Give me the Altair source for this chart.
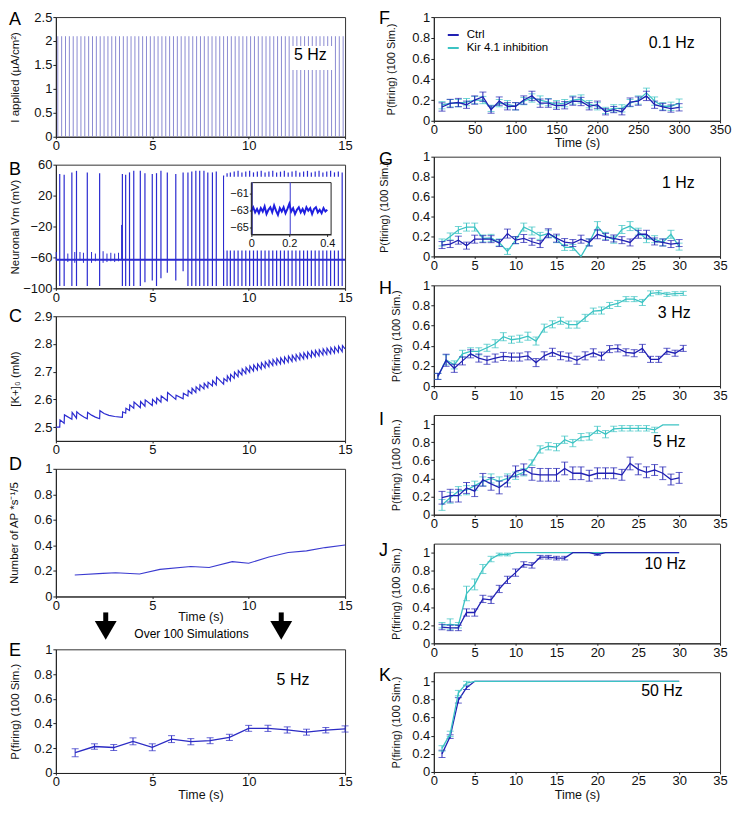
import altair as alt
import pandas as pd

FONT = "Liberation Sans"
BLUE = "#2b2bd0"
CTRL_C = "#2121b3"
KIR_C = "#3cc3c3"
PULSE_C = "#8b8bd2"

LW, RW = 290, 287
HA, HB, HC, HD, HE = 120, 124, 125, 128, 124
HF, HG, HH, HI, HJ, HK = 104, 100, 101, 100, 100, 100

# ---------------- A: applied current pulses (5 Hz) ----------------
pulse_t = [0.1, 0.3, 0.5, 0.7, 0.9, 1.1, 1.3, 1.5, 1.7, 1.9,
           2.1, 2.3, 2.5, 2.7, 2.9, 3.1, 3.3, 3.5, 3.7, 3.9,
           4.1, 4.3, 4.5, 4.7, 4.9, 5.1, 5.3, 5.5, 5.7, 5.9,
           6.1, 6.3, 6.5, 6.7, 6.9, 7.1, 7.3, 7.5, 7.7, 7.9,
           8.1, 8.3, 8.5, 8.7, 8.9, 9.1, 9.3, 9.5, 9.7, 9.9,
           10.1, 10.3, 10.5, 10.7, 10.9, 11.1, 11.3, 11.5, 11.7, 11.9,
           12.1, 12.3, 12.5, 12.7, 12.9, 13.1, 13.3, 13.5, 13.7, 13.9,
           14.1, 14.3, 14.5, 14.7, 14.9]
pulse_amp = 2.1

# ---------------- B: membrane potential ----------------
spike_t = [0.2, 0.43, 0.83, 1.07, 1.63, 2.27,
           3.45, 3.62, 3.82, 4.04, 4.38, 4.62, 5.0, 5.22, 5.45, 5.78, 6.22,
           6.6, 6.85, 7.05, 7.26, 7.46, 7.68, 7.88, 8.12, 8.32, 8.7, 8.88,
           9.05, 9.25, 9.45, 9.65, 9.85, 10.05, 10.25, 10.45, 10.65, 10.85,
           11.05, 11.25, 11.45, 11.65, 11.85, 12.05, 12.25, 12.45, 12.65, 12.85,
           13.05, 13.25, 13.45, 13.65, 13.85, 14.05, 14.25, 14.45, 14.65, 14.85]
spike_hi = [48, 47, 50, 52, 50, 49,
            48, 47, 50, 52, 52, 49, 48, 49, 52, 50, 48,
            50, 50, 51, 52, 52, 52, 50, 50, 51, 46, 49,
            50, 51, 52, 50, 51, 52, 50, 51, 52, 50,
            51, 52, 50, 51, 52, 50, 51, 52, 50, 51,
            52, 50, 51, 52, 50, 51, 52, 50, 51, 50]
spike_lo = [-97, -97, -97, -97, -97, -97,
            -97, -97, -97, -97, -97, -92, -90, -97, -87, -80, -90,
            -78, -97, -97, -97, -97, -97, -97, -97, -97, -97, -97,
            -97, -97, -97, -97, -97, -97, -97, -97, -97, -97,
            -97, -97, -97, -97, -97, -97, -97, -97, -97, -97,
            -97, -97, -97, -97, -97, -97, -97, -97, -97, -97]
blip_t = [0.02, 0.62, 0.98, 1.25, 1.43, 1.85, 2.05, 2.45, 2.65, 2.85, 3.05, 3.25, 3.41]
blip_hi = [-53, -55, -53, -53, -54, -53, -55, -52, -55, -54, -55, -54, -18]
blip_lo = [-63, -66, -67, -64, -67, -67, -65, -67, -66, -65, -66, -65, -63]
rest_vm = -63
trace_span = [0.0, 15.0]

inset_t = [0.0, 0.01, 0.02, 0.03, 0.04, 0.05, 0.06, 0.07, 0.08, 0.09,
           0.1, 0.11, 0.12, 0.13, 0.14, 0.15, 0.16, 0.17, 0.18, 0.19,
           0.2, 0.21, 0.22, 0.23, 0.24, 0.25, 0.26, 0.27, 0.28, 0.29,
           0.3, 0.31, 0.32, 0.33, 0.34, 0.35, 0.36, 0.37, 0.38, 0.39, 0.4]
inset_vm = [-63.0, -62.6, -63.2, -62.8, -63.3, -62.7, -63.1, -62.5, -63.4, -62.9,
            -62.6, -63.2, -62.4, -63.0, -63.5, -62.7, -63.1, -62.6, -63.3, -62.8,
            -62.2, -63.1, -62.7, -63.4, -62.9, -62.6, -63.2, -62.8, -63.3, -62.6,
            -63.0, -62.7, -63.4, -62.8, -62.6, -63.2, -62.9, -63.3, -62.7, -63.1, -62.9]
inset_spike_t = [0.005, 0.205]
inset_ydom = [-65.8, -59.7]

# ---------------- C: extracellular K+ ----------------
c_lo = [2.500, 2.514, 2.528, 2.532, 2.530, 2.530,
        2.535, 2.550, 2.560, 2.568, 2.570, 2.575, 2.578, 2.585, 2.590, 2.595, 2.600,
        2.602, 2.612, 2.620, 2.625, 2.632, 2.638, 2.642, 2.648, 2.652, 2.655, 2.665,
        2.668, 2.676, 2.682, 2.688, 2.693, 2.698, 2.702, 2.706, 2.710, 2.714,
        2.718, 2.722, 2.725, 2.728, 2.731, 2.734, 2.737, 2.740, 2.743, 2.746,
        2.749, 2.752, 2.755, 2.757, 2.760, 2.762, 2.765, 2.767, 2.770, 2.772]
c_hi = [2.526, 2.544, 2.553, 2.555, 2.553, 2.559,
        2.555, 2.568, 2.580, 2.590, 2.592, 2.598, 2.600, 2.605, 2.612, 2.625, 2.615,
        2.622, 2.632, 2.640, 2.645, 2.652, 2.658, 2.662, 2.668, 2.680, 2.675, 2.685,
        2.690, 2.698, 2.704, 2.710, 2.715, 2.720, 2.724, 2.728, 2.732, 2.736,
        2.740, 2.744, 2.747, 2.750, 2.753, 2.756, 2.759, 2.762, 2.765, 2.768,
        2.771, 2.774, 2.777, 2.779, 2.782, 2.784, 2.787, 2.789, 2.792, 2.794]
c_extra_t = [0.0, 1.25, 1.45, 1.85, 2.05, 2.5, 2.75, 3.05, 15.0]
c_extra_v = [2.500, 2.545, 2.536, 2.543, 2.536, 2.549, 2.542, 2.538, 2.782]

# ---------------- D: AP count ----------------
d_t = [0.98, 2.44, 3.1, 4.34, 5.4, 7.0, 7.95, 9.15, 10.0, 11.05, 12.05, 13.0, 13.97, 15.0]
d_v = [0.168, 0.181, 0.186, 0.176, 0.212, 0.235, 0.227, 0.273, 0.26, 0.309, 0.344, 0.357, 0.383, 0.403]

# ---------------- E: firing probability, 100 simulations ----------------
e_t = [1, 2, 3, 4, 5, 6, 7, 8, 9, 10, 11, 12, 13, 14, 15]
e_p = [0.164, 0.214, 0.206, 0.256, 0.208, 0.274, 0.253, 0.261, 0.288, 0.361, 0.361, 0.348, 0.33, 0.346, 0.356]
e_err = [0.032, 0.022, 0.024, 0.028, 0.028, 0.028, 0.025, 0.024, 0.025, 0.024, 0.025, 0.025, 0.024, 0.022, 0.025]

# ---------------- F-K: Ctrl vs Kir 4.1 inhibition ----------------
f_t = [10, 20, 30, 40, 50, 60, 70, 80, 90, 100, 110, 120, 130, 140, 150,
       160, 170, 180, 190, 200, 210, 220, 230, 240, 250, 260, 270, 280, 290, 300]
f_ctrl = [0.133, 0.167, 0.176, 0.155, 0.20, 0.232, 0.108, 0.19, 0.14, 0.14, 0.20, 0.24, 0.17, 0.17, 0.145,
          0.15, 0.19, 0.186, 0.14, 0.155, 0.087, 0.108, 0.087, 0.18, 0.19, 0.24, 0.155, 0.133, 0.118, 0.13]
f_ctrl_e = [0.04, 0.04, 0.04, 0.035, 0.04, 0.045, 0.035, 0.04, 0.035, 0.035, 0.04, 0.045, 0.04, 0.04, 0.035,
            0.035, 0.04, 0.04, 0.035, 0.035, 0.03, 0.03, 0.03, 0.04, 0.04, 0.045, 0.035, 0.035, 0.035, 0.035]
f_kir = [0.15, 0.17, 0.17, 0.18, 0.20, 0.20, 0.12, 0.17, 0.16, 0.14, 0.19, 0.22, 0.20, 0.18, 0.16,
         0.17, 0.20, 0.21, 0.16, 0.14, 0.10, 0.12, 0.12, 0.17, 0.20, 0.27, 0.19, 0.14, 0.14, 0.17]
f_kir_e = [0.035, 0.035, 0.035, 0.035, 0.035, 0.035, 0.03, 0.035, 0.035, 0.035, 0.035, 0.04, 0.04, 0.035, 0.035,
           0.035, 0.04, 0.04, 0.035, 0.035, 0.03, 0.035, 0.035, 0.035, 0.04, 0.045, 0.04, 0.035, 0.04, 0.04]

t30 = [1, 2, 3, 4, 5, 6, 7, 8, 9, 10, 11, 12, 13, 14, 15,
       16, 17, 18, 19, 20, 21, 22, 23, 24, 25, 26, 27, 28, 29, 30]

g_ctrl = [0.114, 0.124, 0.163, 0.108, 0.173, 0.173, 0.173, 0.134, 0.229, 0.163, 0.18, 0.147, 0.124, 0.232, 0.183,
          0.144, 0.134, 0.173, 0.14, 0.222, 0.196, 0.18, 0.163, 0.14, 0.222, 0.222, 0.15, 0.14, 0.124, 0.134]
g_ctrl_e = [0.035, 0.035, 0.04, 0.035, 0.04, 0.035, 0.035, 0.035, 0.045, 0.035, 0.04, 0.035, 0.035, 0.045, 0.04,
            0.035, 0.035, 0.04, 0.035, 0.045, 0.035, 0.035, 0.035, 0.035, 0.04, 0.04, 0.035, 0.035, 0.035, 0.035]
g_kir = [0.14, 0.2, 0.265, 0.294, 0.294, 0.18, 0.186, 0.14, 0.05, 0.163, 0.294, 0.255, 0.206, 0.229, 0.173,
         0.09, 0.09, 0.0, 0.14, 0.304, 0.206, 0.167, 0.27, 0.304, 0.248, 0.173, 0.173, 0.14, 0.222, 0.098]
g_kir_e = [0.035, 0.035, 0.035, 0.04, 0.04, 0.035, 0.035, 0.035, 0.03, 0.035, 0.04, 0.04, 0.035, 0.035, 0.035,
           0.03, 0.03, 0.0, 0.035, 0.045, 0.035, 0.035, 0.04, 0.045, 0.035, 0.035, 0.035, 0.035, 0.04, 0.035]

h_t = [0.5, 1.5, 2.5, 3.5, 4.5, 5.5, 6.5, 7.5, 8.5, 9.5, 10.5, 11.5, 12.5, 13.5, 14.5, 15.5,
       16.5, 17.5, 18.5, 19.5, 20.5, 21.5, 22.5, 23.5, 24.5, 25.5, 26.5, 27.5, 28.5, 29.5, 30.5]
h_ctrl = [0.096, 0.256, 0.176, 0.25, 0.32, 0.278, 0.256, 0.278, 0.294, 0.288, 0.288, 0.30, 0.233, 0.30, 0.335, 0.30,
          0.288, 0.256, 0.30, 0.33, 0.297, 0.367, 0.374, 0.335, 0.326, 0.374, 0.265, 0.265, 0.345, 0.326, 0.374]
h_ctrl_e = [0.03, 0.06, 0.04, 0.04, 0.04, 0.04, 0.04, 0.04, 0.04, 0.04, 0.04, 0.04, 0.04, 0.04, 0.04, 0.04,
            0.04, 0.04, 0.04, 0.04, 0.04, 0.035, 0.035, 0.035, 0.035, 0.04, 0.03, 0.03, 0.03, 0.03, 0.03]
h_kir = [0.096, 0.26, 0.21, 0.32, 0.345, 0.345, 0.38, 0.42, 0.49, 0.46, 0.47, 0.495, 0.447, 0.575, 0.613, 0.649,
         0.61, 0.61, 0.677, 0.744, 0.75, 0.80, 0.82, 0.863, 0.863, 0.83, 0.92, 0.927, 0.91, 0.917, 0.92]
h_kir_e = [0.03, 0.05, 0.04, 0.035, 0.035, 0.035, 0.035, 0.04, 0.04, 0.035, 0.035, 0.04, 0.04, 0.04, 0.035, 0.035,
           0.035, 0.035, 0.035, 0.03, 0.035, 0.03, 0.03, 0.025, 0.025, 0.03, 0.025, 0.02, 0.02, 0.02, 0.02]

i_ctrl = [0.187, 0.21, 0.21, 0.295, 0.26, 0.385, 0.34, 0.30, 0.367, 0.478, 0.50, 0.45, 0.44, 0.44, 0.44,
          0.51, 0.457, 0.457, 0.43, 0.457, 0.457, 0.457, 0.44, 0.565, 0.50, 0.468, 0.493, 0.457, 0.388, 0.406]
i_ctrl_e = [0.07, 0.07, 0.07, 0.06, 0.06, 0.07, 0.07, 0.07, 0.06, 0.06, 0.06, 0.07, 0.07, 0.07, 0.07,
            0.07, 0.07, 0.07, 0.06, 0.06, 0.06, 0.06, 0.06, 0.07, 0.06, 0.06, 0.06, 0.07, 0.06, 0.06]
i_kir = [0.108, 0.187, 0.26, 0.27, 0.32, 0.367, 0.40, 0.367, 0.40, 0.43, 0.468, 0.575, 0.72, 0.755, 0.745,
         0.827, 0.79, 0.856, 0.863, 0.935, 0.888, 0.946, 0.953, 0.953, 0.953, 0.953, 0.935, 0.99, 0.99, 0.99]
i_kir_e = [0.06, 0.06, 0.05, 0.05, 0.05, 0.05, 0.05, 0.05, 0.05, 0.04, 0.04, 0.03, 0.04, 0.04, 0.04,
           0.04, 0.04, 0.04, 0.04, 0.04, 0.04, 0.03, 0.03, 0.03, 0.03, 0.03, 0.03, 0.0, 0.0, 0.0]

j_ctrl = [0.18, 0.17, 0.17, 0.34, 0.34, 0.49, 0.48, 0.60, 0.70, 0.78, 0.87, 0.86, 0.95, 0.95, 0.94,
          0.94, 1.0, 1.0, 1.0, 0.98, 1.0, 1.0, 1.0, 1.0, 1.0, 1.0, 1.0, 1.0, 1.0, 1.0]
j_ctrl_e = [0.03, 0.03, 0.03, 0.04, 0.04, 0.04, 0.04, 0.04, 0.04, 0.04, 0.03, 0.03, 0.02, 0.02, 0.02,
            0.02, 0.0, 0.0, 0.0, 0.01, 0.0, 0.0, 0.0, 0.0, 0.0, 0.0, 0.0, 0.0, 0.0, 0.0]
j_kir = [0.2, 0.21, 0.2, 0.55, 0.65, 0.82, 0.93, 0.98, 0.98, 1.0, 1.0, 1.0, 1.0, 1.0, 1.0,
         1.0, 1.0, 1.0, 1.0, 1.0, 1.0, 1.0, 1.0, 1.0, 1.0, 1.0, 1.0, 1.0, 1.0, 1.0]
j_kir_e = [0.03, 0.06, 0.03, 0.08, 0.06, 0.05, 0.03, 0.015, 0.015, 0.0, 0.0, 0.0, 0.0, 0.0, 0.0,
           0.0, 0.0, 0.0, 0.0, 0.0, 0.0, 0.0, 0.0, 0.0, 0.0, 0.0, 0.0, 0.0, 0.0, 0.0]

k_ctrl = [0.2, 0.39, 0.79, 0.93, 1.0, 1.0, 1.0, 1.0, 1.0, 1.0, 1.0, 1.0, 1.0, 1.0, 1.0,
          1.0, 1.0, 1.0, 1.0, 1.0, 1.0, 1.0, 1.0, 1.0, 1.0, 1.0, 1.0, 1.0, 1.0, 1.0]
k_ctrl_e = [0.04, 0.02, 0.03, 0.02, 0.0, 0.0, 0.0, 0.0, 0.0, 0.0, 0.0, 0.0, 0.0, 0.0, 0.0,
            0.0, 0.0, 0.0, 0.0, 0.0, 0.0, 0.0, 0.0, 0.0, 0.0, 0.0, 0.0, 0.0, 0.0, 0.0]
k_kir = [0.26, 0.42, 0.87, 0.98, 1.0, 1.0, 1.0, 1.0, 1.0, 1.0, 1.0, 1.0, 1.0, 1.0, 1.0,
         1.0, 1.0, 1.0, 1.0, 1.0, 1.0, 1.0, 1.0, 1.0, 1.0, 1.0, 1.0, 1.0, 1.0, 1.0]
k_kir_e = [0.03, 0.03, 0.03, 0.02, 0.0, 0.0, 0.0, 0.0, 0.0, 0.0, 0.0, 0.0, 0.0, 0.0, 0.0,
           0.0, 0.0, 0.0, 0.0, 0.0, 0.0, 0.0, 0.0, 0.0, 0.0, 0.0, 0.0, 0.0, 0.0, 0.0]

series_names = ["Ctrl", "Kir 4.1 inhibition"]
series_colors = [CTRL_C, KIR_C]
prob_ticks = [0, 0.2, 0.4, 0.6, 0.8, 1]
left_xticks = [0, 5, 10, 15]
right_xticks = [0, 5, 10, 15, 20, 25, 30, 35]
f_xticks = [0, 50, 100, 150, 200, 250, 300, 350]

one = pd.DataFrame({"a": [0]})


# ---------------- helpers ----------------
def xaxis(ticks, title=None, title_y=14):
    kw = dict(values=ticks, labelFlush=False, labelOverlap=False, tickSize=2, labelPadding=1)
    if title:
        kw.update(title=title, titleY=title_y, titleFontSize=12.5)
    else:
        kw.update(title=None)
    return alt.Axis(**kw)


def yaxis(ticks, title, title_x, fmt="~g", title_size=11.5):
    return alt.Axis(values=ticks, format=fmt, title=title, titleX=title_x, titleFontSize=title_size,
                    titleBaseline="middle", tickSize=3, labelPadding=1)


def letter_layer(letter, dx, dy):
    return alt.Chart(pd.DataFrame({"l": [letter]})).mark_text(
        font=FONT, fontSize=18, align="left", baseline="middle", color="black"
    ).encode(x=alt.value(dx), y=alt.value(dy), text="l:N")


def label_layer(txt, x, y, X, Y, size=16):
    return alt.Chart(pd.DataFrame({"t": [x], "p": [y], "txt": [txt]})).mark_text(
        font=FONT, fontSize=size, align="center", baseline="middle", color="black"
    ).encode(x=X("t:Q"), y=Y("p:Q"), text="txt:N")


def errbar_layers(df, X, Y, color):
    base = alt.Chart(df)
    line = base.mark_line(strokeWidth=1.3, color=color).encode(x=X("t:Q"), y=Y("p:Q"))
    eb = base.transform_filter("datum.e > 0")
    rule = eb.mark_rule(strokeWidth=1, color=color).encode(x=X("t:Q"), y=Y("lo:Q"), y2="hi:Q")
    cap1 = eb.mark_tick(orient="horizontal", size=7, thickness=1, color=color).encode(x=X("t:Q"), y=Y("lo:Q"))
    cap2 = eb.mark_tick(orient="horizontal", size=7, thickness=1, color=color).encode(x=X("t:Q"), y=Y("hi:Q"))
    return [line, rule, cap1, cap2]


def series_df(t, vals, errs, name):
    return pd.DataFrame({"t": t, "p": vals, "e": errs,
                         "lo": [v - e for v, e in zip(vals, errs)],
                         "hi": [v + e for v, e in zip(vals, errs)],
                         "s": name})


LX = -47   # left-column letter x (left edge)
RX = -55   # right-column letter x (left edge)

# ---------------- panel A ----------------
xA = lambda f: alt.X(f, scale=alt.Scale(domain=[0, 15], nice=False), axis=xaxis(left_xticks))
yA = lambda f: alt.Y(f, scale=alt.Scale(domain=[0, 2.5], nice=False),
                     axis=yaxis([0, 0.5, 1, 1.5, 2, 2.5], "I applied (µA/cm²)", -40))
dfA = pd.DataFrame({"t": pulse_t, "lo": 0.0, "hi": pulse_amp})
panelA = alt.layer(
    alt.Chart(dfA).mark_rule(color=PULSE_C, strokeWidth=1).encode(x=xA("t:Q"), y=yA("lo:Q"), y2="hi:Q"),
    alt.Chart(one).mark_rect(color="white").encode(
        x=alt.value(235), x2=alt.value(279), y=alt.value(29), y2=alt.value(53)),
    label_layer("5 Hz", 13.2, 1.7, xA, yA),
    letter_layer("A", LX, 3),
).properties(width=LW, height=HA)

# ---------------- panel B ----------------
xB = lambda f: alt.X(f, scale=alt.Scale(domain=[0, 15], nice=False), axis=xaxis(left_xticks))
yB = lambda f: alt.Y(f, scale=alt.Scale(domain=[-100, 60], nice=False),
                     axis=yaxis([-100, -60, -20, 20, 60], "Neuronal Vm (mV)", -40, fmt="d"))
dfS = pd.DataFrame({"t": spike_t, "lo": spike_lo, "hi": spike_hi})
dfBl = pd.DataFrame({"t": blip_t, "lo": blip_lo, "hi": blip_hi})
dfRest = pd.DataFrame({"t": [trace_span[0]], "t2": [trace_span[1]], "v": [rest_vm]})
mainB = alt.layer(
    alt.Chart(dfBl).mark_rule(color=BLUE, strokeWidth=1).encode(x=xB("t:Q"), y=yB("lo:Q"), y2="hi:Q"),
    alt.Chart(dfS).mark_rule(color=BLUE, strokeWidth=1.2).encode(x=xB("t:Q"), y=yB("lo:Q"), y2="hi:Q"),
    alt.Chart(dfRest).mark_rule(color=BLUE, strokeWidth=2).encode(x=xB("t:Q"), x2="t2:Q", y=yB("v:Q")),
)
ix0, ix1 = 196, 276
iy0, iy1 = 18, 70
iX = lambda f: alt.X(f, scale=alt.Scale(domain=[0, 0.42], range=[ix0, ix1], nice=False),
                     axis=alt.Axis(orient="bottom", offset=-(HB - iy1), values=[0, 0.2, 0.4], format="~g",
                                   title=None, labelFontSize=11, tickSize=2, labelPadding=1,
                                   labelFlush=False, zindex=1))
iY = lambda f: alt.Y(f, scale=alt.Scale(domain=inset_ydom, range=[iy1, iy0], nice=False, zero=False),
                     axis=alt.Axis(orient="left", offset=-ix0, values=[-65, -63, -61], format="d",
                                   title=None, labelFontSize=11, tickSize=2, labelPadding=1, zindex=1))
dfIn = pd.DataFrame({"t": inset_t, "v": inset_vm})
dfInS = pd.DataFrame({"t": inset_spike_t, "lo": inset_ydom[0], "hi": inset_ydom[1]})
insetB = alt.layer(
    alt.Chart(one).mark_rect(color="white").encode(
        x=alt.value(ix0 - 27), x2=alt.value(ix1 + 8), y=alt.value(iy0 - 6), y2=alt.value(iy1 + 16)),
    alt.Chart(one).mark_rect(fill="white", stroke="#222", strokeWidth=1).encode(
        x=alt.value(ix0), x2=alt.value(ix1), y=alt.value(iy0), y2=alt.value(iy1)),
    alt.Chart(dfInS).mark_rule(color="#5a5ad8", strokeWidth=1.2).encode(x=iX("t:Q"), y=iY("lo:Q"), y2="hi:Q"),
    alt.Chart(dfIn).mark_line(color="#1f1fe0", strokeWidth=2).encode(x=iX("t:Q"), y=iY("v:Q")),
)
panelB = alt.layer(mainB, insetB, letter_layer("B", LX, 5)).resolve_scale(
    x="independent", y="independent").resolve_axis(x="independent", y="independent").properties(
    width=LW, height=HB)

# ---------------- panel C ----------------
c_t_all, c_v_all = [], []
for ti, lo, hi in zip(spike_t, c_lo, c_hi):
    c_t_all += [ti, ti + 0.015]
    c_v_all += [lo, hi]
c_t_all += c_extra_t
c_v_all += c_extra_v
dfC = pd.DataFrame({"t": c_t_all, "v": c_v_all}).sort_values("t")
xC = lambda f: alt.X(f, scale=alt.Scale(domain=[0, 15], nice=False), axis=xaxis(left_xticks))
yC = lambda f: alt.Y(f, scale=alt.Scale(domain=[2.45, 2.9], nice=False, zero=False),
                     axis=yaxis([2.5, 2.6, 2.7, 2.8, 2.9], "[K+]₀ (mM)", -40))
panelC = alt.layer(
    alt.Chart(dfC).mark_line(color=BLUE, strokeWidth=1.2).encode(x=xC("t:Q"), y=yC("v:Q"), order="t:Q"),
    letter_layer("C", LX, 1),
).properties(width=LW, height=HC)

# ---------------- panel D (+ arrows leading to E) ----------------
xD = lambda f: alt.X(f, scale=alt.Scale(domain=[0, 15], nice=False),
                     axis=xaxis(left_xticks, "Time (s)", 14))
yD = lambda f: alt.Y(f, scale=alt.Scale(domain=[0, 1], nice=False),
                     axis=yaxis(prob_ticks, "Number of AP *s⁻¹/5", -41))
dfD = pd.DataFrame({"t": d_t, "v": d_v})
arrow_x = [50, 226]
arrows = []
for ax in arrow_x:
    arrows.append(alt.Chart(one).mark_rule(color="black", strokeWidth=5).encode(
        x=alt.value(ax), y=alt.value(HD + 16), y2=alt.value(HD + 29)))
    arrows.append(alt.Chart(one).mark_point(shape="triangle-down", filled=True, size=480,
                                            color="black", opacity=1).encode(
        x=alt.value(ax), y=alt.value(HD + 34)))
panelD = alt.layer(
    alt.Chart(dfD).mark_line(color="#3a3ad0", strokeWidth=1.1).encode(x=xD("t:Q"), y=yD("v:Q")),
    alt.Chart(pd.DataFrame({"txt": ["Over 100 Simulations"]})).mark_text(
        font=FONT, fontSize=12, align="center", baseline="middle", color="black").encode(
        x=alt.value(136), y=alt.value(HD + 38), text="txt:N"),
    *arrows,
    letter_layer("D", LX, -4),
).properties(width=LW, height=HD)

# ---------------- panel E ----------------
xE = lambda f: alt.X(f, scale=alt.Scale(domain=[0, 15], nice=False),
                     axis=xaxis(left_xticks, "Time (s)", 16))
yE = lambda f: alt.Y(f, scale=alt.Scale(domain=[0, 1], nice=False),
                     axis=yaxis(prob_ticks, "P(firing) (100 Sim.)", -40))
dfE = series_df(e_t, e_p, e_err, "E")
panelE = alt.layer(
    *errbar_layers(dfE, xE, yE, "#2b2bc4"),
    label_layer("5 Hz", 12.3, 0.75, xE, yE),
    letter_layer("E", LX, 2),
).properties(width=LW, height=HE)


# ---------------- right panels ----------------
def prob_panel(letter, t, ctrl, ctrl_e, kir, kir_e, hz, hz_x, hz_y, xdom, xticks, ydom, h,
               xtitle=False, title_y=15, legend=False, kir_on_top=False, letter_dy=5, ytitle_x=-37):
    xa = xaxis(xticks, "Time (s)" if xtitle else None, title_y)
    X = lambda f: alt.X(f, scale=alt.Scale(domain=xdom, nice=False), axis=xa)
    Y = lambda f: alt.Y(f, scale=alt.Scale(domain=ydom, nice=False),
                        axis=yaxis(prob_ticks, "P(firing) (100 Sim.)", ytitle_x, title_size=11))
    dc = series_df(t, ctrl, ctrl_e, series_names[0])
    dk = series_df(t, kir, kir_e, series_names[1])
    if kir_on_top:
        layers = errbar_layers(dc, X, Y, CTRL_C) + errbar_layers(dk, X, Y, KIR_C)
    else:
        layers = errbar_layers(dk, X, Y, KIR_C) + errbar_layers(dc, X, Y, CTRL_C)
    layers.append(label_layer(hz, hz_x, hz_y, X, Y))
    layers.append(letter_layer(letter, RX, letter_dy))
    if legend:
        for i, (name, colr) in enumerate(zip(series_names, series_colors)):
            yy = 18 + 13 * i
            layers.append(alt.Chart(one).mark_rule(color=colr, strokeWidth=2).encode(
                x=alt.value(14), x2=alt.value(25), y=alt.value(yy)))
            layers.append(alt.Chart(pd.DataFrame({"txt": [name]})).mark_text(
                font=FONT, fontSize=11.5, align="left", baseline="middle", color="black").encode(
                x=alt.value(33), y=alt.value(yy), text="txt:N"))
    return alt.layer(*layers).properties(width=RW, height=h)


panelF = prob_panel("F", f_t, f_ctrl, f_ctrl_e, f_kir, f_kir_e, "0.1 Hz", 291, 0.75,
                    [0, 350], f_xticks, [0, 1], HF, xtitle=True, title_y=16, legend=True,
                    letter_dy=2, ytitle_x=-42)
panelG = prob_panel("G", t30, g_ctrl, g_ctrl_e, g_kir, g_kir_e, "1 Hz", 29.9, 0.74,
                    [0, 35], right_xticks, [0, 1], HG, letter_dy=3, ytitle_x=-49)
panelH = prob_panel("H", h_t, h_ctrl, h_ctrl_e, h_kir, h_kir_e, "3 Hz", 29.4, 0.73,
                    [0, 35], right_xticks, [0, 1], HH, letter_dy=4)
panelI = prob_panel("I", t30, i_ctrl, i_ctrl_e, i_kir, i_kir_e, "5 Hz", 28.8, 0.80,
                    [0, 35], right_xticks, [0, 1.1], HI, letter_dy=5)
panelJ = prob_panel("J", t30, j_ctrl, j_ctrl_e, j_kir, j_kir_e, "10 Hz", 28.3, 0.87,
                    [0, 35], right_xticks, [0, 1.1], HJ, letter_dy=7)
panelK = prob_panel("K", t30, k_ctrl, k_ctrl_e, k_kir, k_kir_e, "50 Hz", 27.9, 0.89,
                    [0, 35], right_xticks, [0, 1.1], HK, xtitle=True, title_y=17,
                    kir_on_top=True, letter_dy=4)

left = alt.vconcat(alt.vconcat(panelA, panelB, panelC, panelD, spacing=28, bounds="flush"),
                   panelE, spacing=0)
right = alt.vconcat(panelF,
                    alt.vconcat(panelG, panelH, panelI, panelJ, panelK, spacing=29, bounds="flush"),
                    spacing=0)

chart = alt.hconcat(left, right, spacing=25).properties(
    padding=0
).configure(font=FONT).configure_axis(
    labelFont=FONT, titleFont=FONT, labelFontSize=13, titleFontSize=11.5, titleFontWeight="normal",
    grid=False, domainColor="#222", tickColor="#222", labelColor="#111", titleColor="#111"
).configure_view(stroke="#333", strokeWidth=1)

chart.save("out.html", embed_options={"renderer": "svg", "actions": False})
